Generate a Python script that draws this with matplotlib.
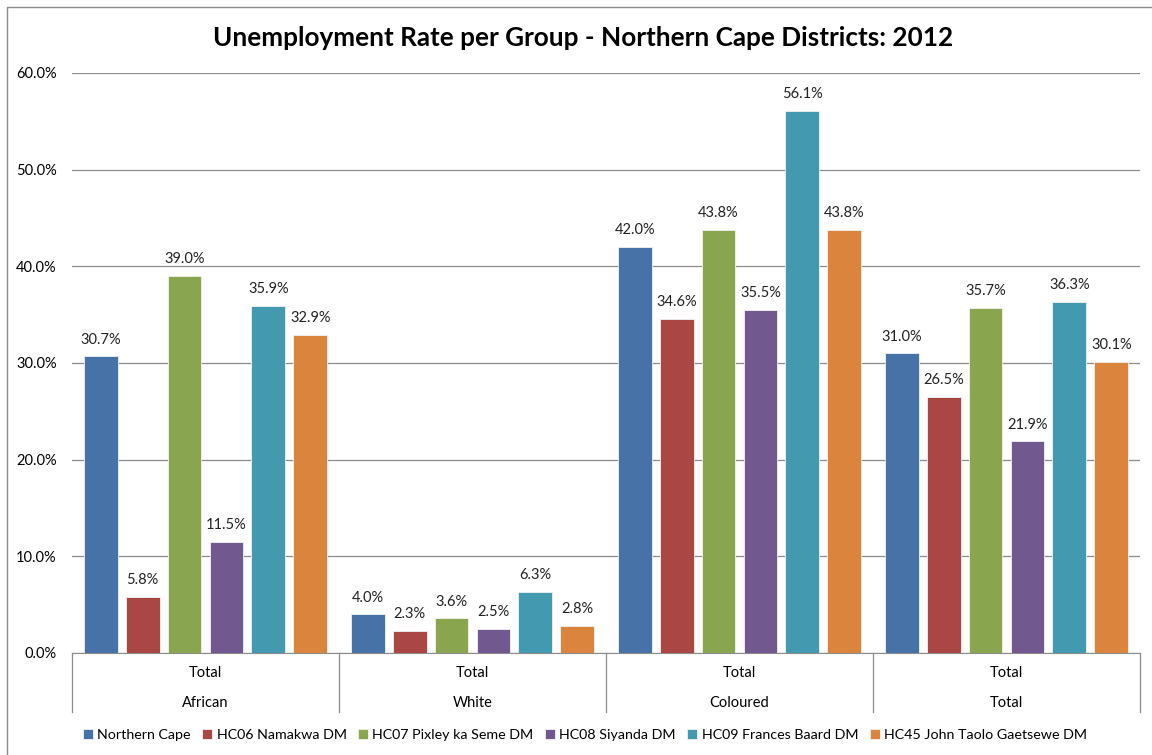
import matplotlib
matplotlib.use("Agg")
import matplotlib.pyplot as plt
from matplotlib.patches import Rectangle
import numpy as np

plt.rcParams['font.family'] = ['Lato', 'DejaVu Sans']

title = "Unemployment Rate per Group - Northern Cape Districts: 2012"
groups = ["African", "White", "Coloured", "Total"]
sublabels = ["Total", "Total", "Total", "Total"]
series_names = ["Northern Cape", "HC06 Namakwa DM", "HC07 Pixley ka Seme DM",
                "HC08 Siyanda DM", "HC09 Frances Baard DM", "HC45 John Taolo Gaetsewe DM"]
northern_cape = [30.7, 4.0, 42.0, 31.0]
namakwa = [5.8, 2.3, 34.6, 26.5]
pixley = [39.0, 3.6, 43.8, 35.7]
siyanda = [11.5, 2.5, 35.5, 21.9]
frances_baard = [35.9, 6.3, 56.1, 36.3]
john_taolo = [32.9, 2.8, 43.8, 30.1]
series_values = [northern_cape, namakwa, pixley, siyanda, frances_baard, john_taolo]
colors = ["#4672A8", "#AA4744", "#89A64E", "#71598F", "#4299B0", "#DB843D"]

fig = plt.figure(figsize=(11.52, 7.55), dpi=100)
# figure border
fig.patches.append(Rectangle((7/1152, -0.01), 1.2, 1 - 7/755 + 0.01, transform=fig.transFigure,
                             fill=False, edgecolor="#8c8c8c", linewidth=1.0, zorder=0))

ax = fig.add_axes([72/1152, 1 - 653/755, (1140 - 72)/1152, (653 - 73)/755])
x = np.arange(len(groups)) + 0.5
pitch = 0.157
width = 0.127
for i, (name, vals, c) in enumerate(zip(series_names, series_values, colors)):
    xs = x + (i - 2.5) * pitch
    ax.bar(xs, vals, width, color=c, edgecolor="#f2f2f2", linewidth=0.6,
           label=name, zorder=3)
    for xi, v in zip(xs, vals):
        ax.text(xi, v + 1.0, f"{v:.1f}%", ha="center", va="bottom", fontsize=10.5, color="#222222")

ax.set_xlim(0, 4)
ax.set_ylim(0, 60)
ax.set_yticks(np.arange(0, 61, 10))
ax.set_yticklabels([f"{t:.1f}%" for t in np.arange(0, 61, 10)], fontsize=10.5)
ax.yaxis.grid(True, color="#8c8c8c", linewidth=0.9, zorder=0)
ax.tick_params(axis="y", length=0, pad=11)
ax.set_xticks([])
for s in ["top", "right", "left"]:
    ax.spines[s].set_visible(False)
ax.spines["bottom"].set_color("#8c8c8c")

# multi-level category axis
for k in range(len(groups) + 1):
    ax.plot([k, k], [0, -0.102], transform=ax.get_xaxis_transform(), color="#8c8c8c",
            linewidth=0.9, clip_on=False)
for xi, sub, g in zip(x, sublabels, groups):
    ax.text(xi, -0.034, sub, transform=ax.get_xaxis_transform(), ha="center", va="center", fontsize=10.5)
    ax.text(xi, -0.087, g, transform=ax.get_xaxis_transform(), ha="center", va="center", fontsize=10.5)

fig.text(583/1152, 1 - 38/755, title, ha="center", va="center", fontsize=18.8, fontweight="bold")

fig.legend(loc="center", bbox_to_anchor=(585/1152, 1 - 735/755), ncol=6, frameon=False,
           fontsize=10.3, handlelength=0.7, handleheight=0.7, handletextpad=0.3, columnspacing=0.8)

fig.savefig("out.png", dpi=100)
